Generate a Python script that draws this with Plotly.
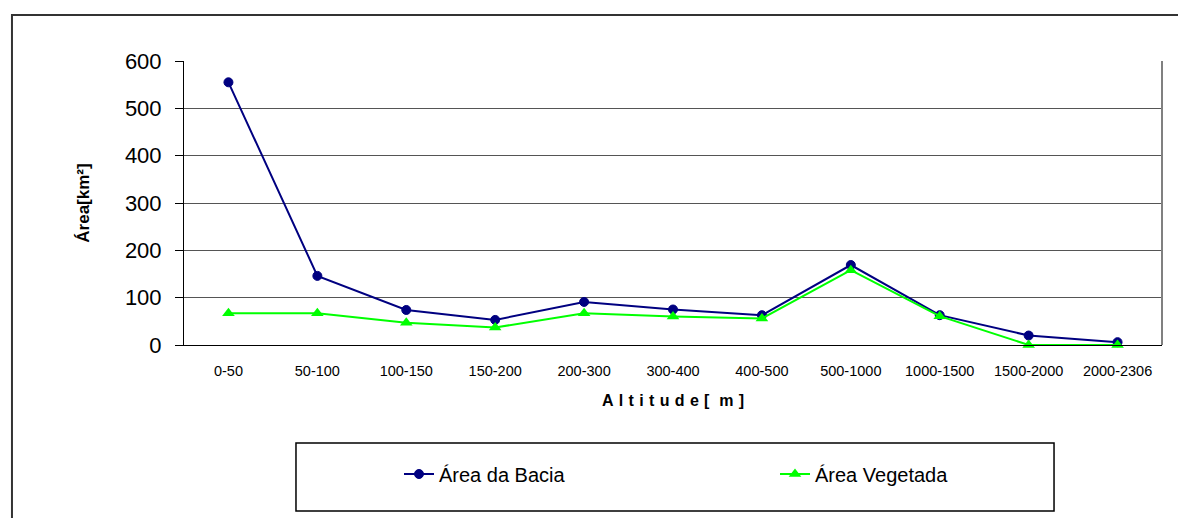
import plotly.graph_objects as go

categories = ["0-50", "50-100", "100-150", "150-200", "200-300", "300-400",
              "400-500", "500-1000", "1000-1500", "1500-2000", "2000-2306"]
area_bacia = [555, 146, 74, 53, 91, 75, 63, 169, 63, 20, 6]
area_vegetada = [67, 67, 47, 37, 67, 60, 56, 158, 61, 0, 0]

FONT = "Liberation Sans, Arial, sans-serif"
W, H = 1178, 510  # page body has an 8px margin

fig = go.Figure()
fig.add_trace(go.Scatter(
    x=categories, y=area_bacia, name="Área da Bacia", mode="lines+markers",
    line=dict(color="#000080", width=2),
    marker=dict(symbol="circle", size=9, color="#000080",
                line=dict(color="#000080", width=1)),
    cliponaxis=False,
))
fig.add_trace(go.Scatter(
    x=categories, y=area_vegetada, name="Área Vegetada", mode="lines+markers",
    line=dict(color="#00FF00", width=2),
    marker=dict(symbol="triangle-up", size=11, color="#00FF00"),
    cliponaxis=False,
))

fig.update_layout(
    width=W, height=H, autosize=False,
    margin=dict(l=176, r=24, t=53, b=173, autoexpand=False),
    paper_bgcolor="white", plot_bgcolor="white",
    font=dict(family=FONT, color="black"),
    showlegend=True,
    legend=dict(
        orientation="h", xref="container", yref="container",
        x=391 / W, y=1 - 466 / H, xanchor="left", yanchor="middle",
        font=dict(size=20, family=FONT), entrywidth=331,
        bgcolor="rgba(0,0,0,0)", borderwidth=0,
    ),
    xaxis=dict(
        type="category", range=[-0.5, 10.5],
        showline=True, linecolor="black", linewidth=1, mirror=False,
        showgrid=False, ticks="", tickfont=dict(size=14.5, color="black"),
        ticklabelstandoff=13,
        title=dict(text="<b>A\u2004l\u2004t\u2004i\u2004t\u2004u\u2004d\u2004e\u2004[\u2004 m\u2004]</b>",
                   font=dict(size=16), standoff=16),
    ),
    yaxis=dict(
        range=[0, 600], dtick=100, tick0=0,
        showline=True, linecolor="black", linewidth=1,
        showgrid=True, gridcolor="#555555", gridwidth=1,
        zeroline=False, ticks="outside", ticklen=8, tickcolor="black",
        ticklabelstandoff=9,
        tickfont=dict(size=22, color="black"),
        title=dict(text="<b>Área[km²]</b>", font=dict(size=17), standoff=30),
    ),
    shapes=[
        # outer chart frame
        dict(type="rect", xref="paper", yref="paper",
             x0=-0.1759, x1=1.2, y0=-1.2, y1=1.162,
             line=dict(color="#333333", width=2), fillcolor="rgba(0,0,0,0)", layer="below"),
        # plot area right border
        dict(type="line", xref="paper", yref="paper", x0=1, x1=1, y0=0, y1=1,
             line=dict(color="#808080", width=2)),
        # legend box
        dict(type="rect", xref="paper", yref="paper",
             x0=0.1145, x1=0.8896, y0=-0.5845, y1=-0.345,
             line=dict(color="black", width=1.5), fillcolor="rgba(0,0,0,0)"),
    ],
)

fig.write_html("out.html")
